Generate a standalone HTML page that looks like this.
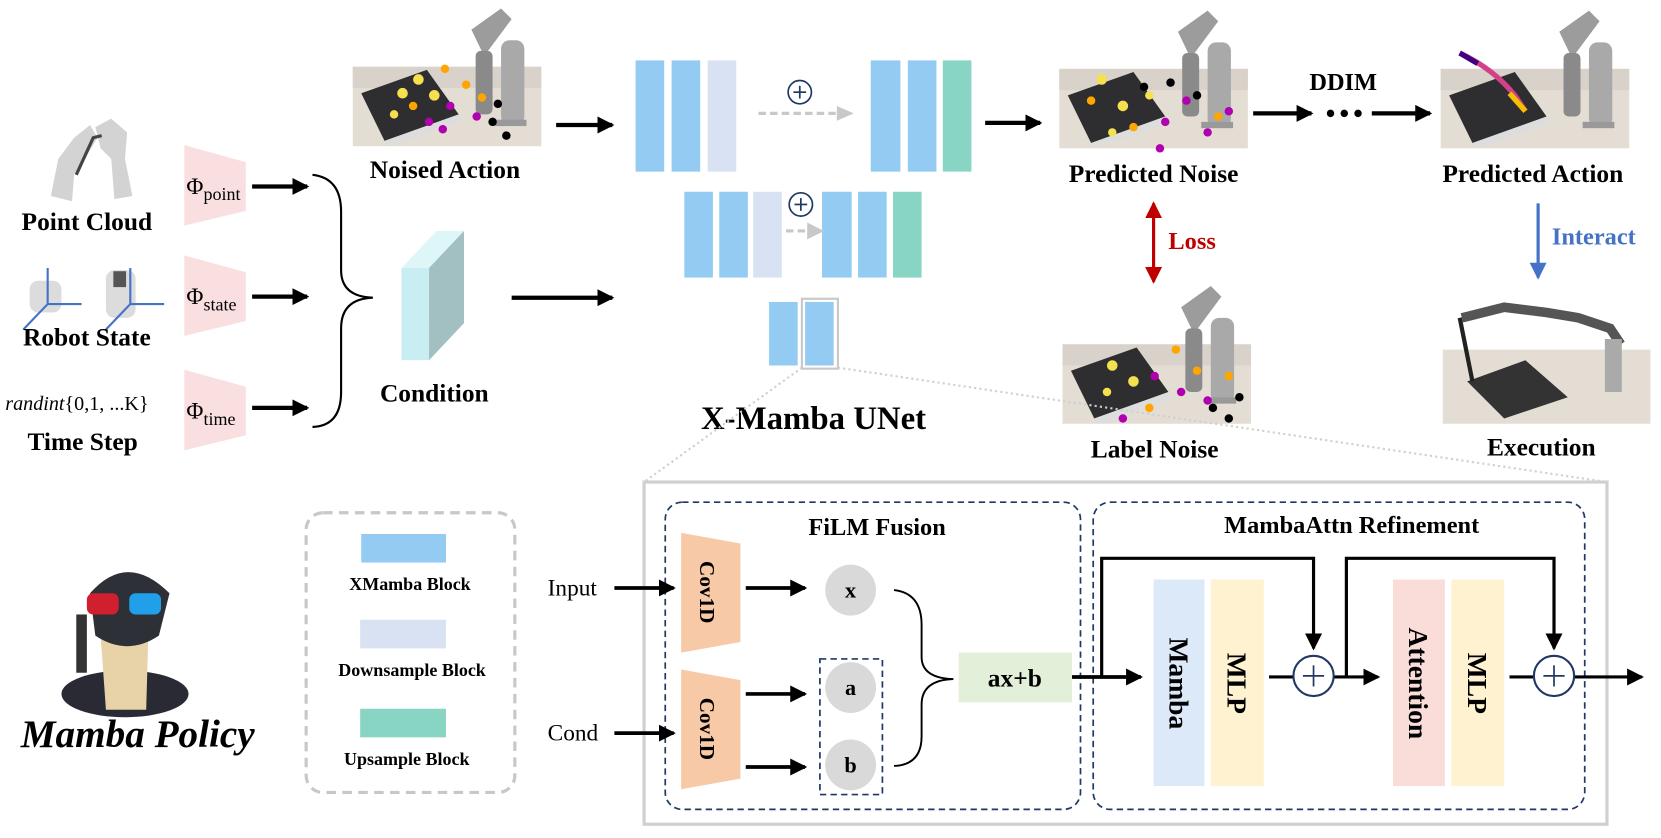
<!DOCTYPE html>
<html><head><meta charset="utf-8"><style>
html,body{margin:0;padding:0;background:#fff;}
svg{display:block;}
text{font-family:"Liberation Serif",serif;}
.b{font-weight:bold;}
</style></head><body>
<svg width="1661" height="838" viewBox="0 0 1568 791" preserveAspectRatio="none" xmlns="http://www.w3.org/2000/svg">
<defs>
<marker id="ahb" markerWidth="16" markerHeight="16" refX="14" refY="8" orient="auto" markerUnits="userSpaceOnUse"><path d="M0,0 L16,8 L0,16 z" fill="#000"/></marker>
<marker id="ahr" markerWidth="16" markerHeight="16" refX="14" refY="8" orient="auto-start-reverse" markerUnits="userSpaceOnUse"><path d="M0,0 L16,8 L0,16 z" fill="#c00000"/></marker>
<marker id="ahbl" markerWidth="16" markerHeight="16" refX="14" refY="8" orient="auto" markerUnits="userSpaceOnUse"><path d="M0,0 L16,8 L0,16 z" fill="#4472c4"/></marker>
<g id="scene">
<rect x="0" y="55" width="178" height="75" fill="#e4ddd3"/>
<rect x="0" y="55" width="178" height="20" fill="#d8d2ca"/>
<polygon points="8,80 70,58 100,100 30,125" fill="#2e2e30"/>
<polygon points="30,125 100,100 104,106 36,130" fill="#ddd"/>
<rect x="140" y="30" width="22" height="80" rx="8" fill="#a9a9a9"/>
<polygon points="112,20 140,0 150,10 124,45" fill="#9c9c9c"/>
<rect x="116" y="40" width="16" height="60" rx="5" fill="#8a8a8a"/>
<rect x="134" y="105" width="30" height="6" fill="#999"/>
</g>
</defs>

<g fill="#cfcfcf" opacity="0.9">
<path d="M48,185 L55,150 L70,130 L85,118 L92,130 L80,150 L70,165 L68,190 Z"/>
<path d="M90,120 L105,112 L120,125 L118,150 L125,185 L108,188 L105,150 L95,140 Z"/>
</g>
<path d="M72,165 L88,130 L96,128" stroke="#444" stroke-width="3" fill="none"/>
<text x="82" y="217" font-size="24" class="b" text-anchor="middle">Point Cloud</text>
<g fill="#dcdcdc"><rect x="28" y="265" width="30" height="30" rx="8"/><rect x="100" y="255" width="28" height="45" rx="8"/></g>
<g stroke="#4472c4" stroke-width="2" fill="none">
<line x1="45" y1="287" x2="45" y2="253"/><line x1="45" y1="287" x2="77" y2="287"/><line x1="45" y1="287" x2="22" y2="311"/>
<line x1="123" y1="287" x2="123" y2="253"/><line x1="123" y1="287" x2="155" y2="287"/><line x1="123" y1="287" x2="100" y2="311"/>
</g>
<rect x="107" y="256" width="12" height="15" fill="#555"/>
<text x="82" y="326" font-size="24" class="b" text-anchor="middle">Robot State</text>
<text x="5" y="387" font-size="19"><tspan font-style="italic">randint</tspan>{0,1, ...K}</text>
<text x="78" y="425" font-size="24" class="b" text-anchor="middle">Time Step</text>

<g fill="#f9dfe0">
<polygon points="174,137 232,153 232,199 174,213"/>
<polygon points="174,241 232,257 232,303 174,317"/>
<polygon points="174,349 232,365 232,411 174,425"/>
</g>
<text x="176" y="183" font-size="22">Φ<tspan font-size="17" dy="6">point</tspan></text>
<text x="176" y="287" font-size="22">Φ<tspan font-size="17" dy="6">state</tspan></text>
<text x="176" y="395" font-size="22">Φ<tspan font-size="17" dy="6">time</tspan></text>
<g stroke="#000" stroke-width="4" marker-end="url(#ahb)">
<line x1="238" y1="176" x2="290" y2="176"/><line x1="238" y1="280" x2="290" y2="280"/><line x1="238" y1="385" x2="290" y2="385"/>
</g>
<path d="M295,165 Q322,168 322,200 L322,255 Q322,280 352,281 Q322,282 322,310 L322,370 Q322,402 295,403" stroke="#000" stroke-width="2" fill="none"/>
<polygon points="379,253 412,218 438,218 405,253" fill="#dff6f8"/>
<polygon points="405,253 438,218 438,305 405,340" fill="#a2bfc2"/>
<rect x="379" y="253" width="26" height="87" fill="#c8eef3"/>
<text x="410" y="379" font-size="24" class="b" text-anchor="middle">Condition</text>
<line x1="483" y1="281" x2="578" y2="281" stroke="#000" stroke-width="4" marker-end="url(#ahb)"/>

<use href="#scene" x="333" y="8"/>
<g fill="#ffa500"><circle cx="420" cy="65" r="4"/><circle cx="440" cy="80" r="4"/><circle cx="390" cy="100" r="4"/><circle cx="455" cy="92" r="4"/></g>
<g fill="#f5e050"><circle cx="380" cy="88" r="5"/><circle cx="395" cy="75" r="5"/><circle cx="410" cy="90" r="5"/><circle cx="372" cy="108" r="4"/></g>
<g fill="#b000b0"><circle cx="405" cy="115" r="4"/><circle cx="425" cy="100" r="4"/><circle cx="450" cy="110" r="4"/><circle cx="418" cy="122" r="4"/></g>
<g fill="#000"><circle cx="465" cy="115" r="4"/><circle cx="478" cy="128" r="4"/><circle cx="470" cy="98" r="4"/></g>
<text x="420" y="168" font-size="24" class="b" text-anchor="middle">Noised Action</text>
<line x1="525" y1="118" x2="578" y2="118" stroke="#000" stroke-width="4" marker-end="url(#ahb)"/>

<g fill="#94cbf2">
<rect x="600" y="57" width="27" height="105"/><rect x="634" y="57" width="27" height="105"/>
<rect x="822" y="57" width="28" height="105"/><rect x="857" y="57" width="27" height="105"/>
<rect x="646" y="181" width="27" height="81"/><rect x="679" y="181" width="27" height="81"/>
<rect x="776" y="181" width="28" height="81"/><rect x="810" y="181" width="27" height="81"/>
<rect x="726" y="285" width="27" height="60"/><rect x="760" y="285" width="27" height="60"/>
</g>
<g fill="#d8e2f3"><rect x="668" y="57" width="27" height="105"/><rect x="711" y="181" width="27" height="81"/></g>
<g fill="#88d5c4"><rect x="890" y="57" width="27" height="105"/><rect x="843" y="181" width="27" height="81"/></g>
<rect x="757" y="282" width="34" height="66" fill="none" stroke="#c8c8c8" stroke-width="2"/>
<g stroke="#c8c8c8" stroke-width="3" stroke-dasharray="7,4">
<line x1="716" y1="107" x2="790" y2="107"/><line x1="742" y1="218" x2="762" y2="218"/>
</g>
<polygon points="790,100 806,107 790,114" fill="#c8c8c8"/>
<polygon points="762,210 778,218 762,226" fill="#c8c8c8"/>
<g fill="#fff" stroke="#1f3864" stroke-width="1.6">
<circle cx="755" cy="87" r="11"/><circle cx="756" cy="193" r="11"/>
</g>
<g stroke="#1f3864" stroke-width="1.6"><line x1="749" y1="87" x2="761" y2="87"/><line x1="755" y1="81" x2="755" y2="93"/><line x1="750" y1="193" x2="762" y2="193"/><line x1="756" y1="187" x2="756" y2="199"/></g>
<text x="768" y="405" font-size="31" class="b" text-anchor="middle">X-Mamba UNet</text>
<line x1="930" y1="116" x2="982" y2="116" stroke="#000" stroke-width="4" marker-end="url(#ahb)"/>

<use href="#scene" x="1000" y="10"/>
<g fill="#f5e050"><circle cx="1040" cy="75" r="5"/><circle cx="1060" cy="100" r="5"/><circle cx="1085" cy="90" r="4"/><circle cx="1050" cy="125" r="4"/></g>
<g fill="#ffa500"><circle cx="1030" cy="95" r="4"/><circle cx="1070" cy="120" r="4"/><circle cx="1150" cy="110" r="4"/></g>
<g fill="#b000b0"><circle cx="1100" cy="115" r="4"/><circle cx="1120" cy="95" r="4"/><circle cx="1140" cy="125" r="4"/><circle cx="1160" cy="105" r="4"/><circle cx="1095" cy="140" r="4"/></g>
<g fill="#000"><circle cx="1080" cy="82" r="4"/><circle cx="1105" cy="78" r="4"/><circle cx="1130" cy="90" r="4"/></g>
<text x="1089" y="172" font-size="24" class="b" text-anchor="middle">Predicted Noise</text>
<line x1="1089" y1="192" x2="1089" y2="266" stroke="#c00000" stroke-width="3" marker-start="url(#ahr)" marker-end="url(#ahr)"/>
<text x="1103" y="235" font-size="23" class="b" fill="#c00000">Loss</text>
<use href="#scene" x="1003" y="270"/>
<g fill="#f5e050"><circle cx="1050" cy="345" r="5"/><circle cx="1070" cy="360" r="5"/><circle cx="1045" cy="370" r="4"/></g>
<g fill="#ffa500"><circle cx="1110" cy="330" r="4"/><circle cx="1130" cy="350" r="4"/><circle cx="1085" cy="385" r="4"/><circle cx="1160" cy="355" r="4"/></g>
<g fill="#b000b0"><circle cx="1090" cy="355" r="4"/><circle cx="1115" cy="370" r="4"/><circle cx="1060" cy="395" r="4"/><circle cx="1140" cy="378" r="4"/></g>
<g fill="#000"><circle cx="1145" cy="385" r="4"/><circle cx="1160" cy="395" r="4"/><circle cx="1170" cy="375" r="4"/></g>
<text x="1090" y="432" font-size="24" class="b" text-anchor="middle">Label Noise</text>

<line x1="1183" y1="107" x2="1238" y2="107" stroke="#000" stroke-width="4" marker-end="url(#ahb)"/>
<text x="1268" y="85" font-size="23" class="b" text-anchor="middle">DDIM</text>
<g fill="#000"><circle cx="1256" cy="107" r="3.5"/><circle cx="1269" cy="107" r="3.5"/><circle cx="1282" cy="107" r="3.5"/></g>
<line x1="1295" y1="107" x2="1350" y2="107" stroke="#000" stroke-width="4" marker-end="url(#ahb)"/>
<use href="#scene" x="1360" y="10"/>
<path d="M1378,50 Q1410,65 1430,90 L1440,105" stroke="#d4408a" stroke-width="5" fill="none"/>
<path d="M1378,50 L1395,60" stroke="#400080" stroke-width="5"/><path d="M1425,88 L1440,105" stroke="#f5c000" stroke-width="5"/>
<text x="1447" y="172" font-size="24" class="b" text-anchor="middle">Predicted Action</text>
<line x1="1452" y1="192" x2="1452" y2="262" stroke="#4472c4" stroke-width="3" marker-end="url(#ahbl)"/>
<text x="1465" y="231" font-size="23" class="b" fill="#4472c4">Interact</text>
<rect x="1362" y="330" width="196" height="70" fill="#e4ddd3"/>
<polygon points="1385,360 1440,340 1480,375 1420,395" fill="#333"/>
<path d="M1380,300 L1420,290 L1460,295 L1490,300 L1520,310 L1530,325" stroke="#555" stroke-width="9" fill="none"/>
<rect x="1515" y="320" width="16" height="50" fill="#aaa"/>
<path d="M1378,300 L1390,360" stroke="#222" stroke-width="4"/>
<text x="1455" y="430" font-size="24" class="b" text-anchor="middle">Execution</text>

<g stroke="#cfcfcf" stroke-width="2" stroke-dasharray="2,3">
<line x1="757" y1="347" x2="608" y2="455"/><line x1="791" y1="347" x2="1517" y2="455"/>
</g>

<rect x="289" y="484" width="197" height="264" rx="16" fill="none" stroke="#c8c8c8" stroke-width="3" stroke-dasharray="9,6"/>
<rect x="341" y="504" width="80" height="27" fill="#94cbf2"/>
<rect x="340" y="585" width="81" height="27" fill="#d8e2f3"/>
<rect x="340" y="669" width="81" height="27" fill="#88d5c4"/>
<text x="387" y="557" font-size="17" class="b" text-anchor="middle">XMamba Block</text>
<text x="389" y="638" font-size="17" class="b" text-anchor="middle">Downsample Block</text>
<text x="384" y="722" font-size="17" class="b" text-anchor="middle">Upsample Block</text>

<ellipse cx="118" cy="655" rx="60" ry="22" fill="#2a2a35"/>
<path d="M95,600 L140,600 L138,670 L100,670 Z" fill="#e8d2a8"/>
<path d="M85,560 Q120,520 160,560 L150,600 Q120,620 90,600 Z" fill="#2e3038"/>
<rect x="82" y="560" width="30" height="20" rx="6" fill="#d02030"/>
<rect x="122" y="560" width="30" height="20" rx="6" fill="#20a0e8"/>
<rect x="72" y="580" width="10" height="55" fill="#333"/>
<text x="130" y="705" font-size="37" font-style="italic" class="b" text-anchor="middle">Mamba Policy</text>

<rect x="608" y="455" width="909" height="323" fill="none" stroke="#d0d0d0" stroke-width="3"/>
<g fill="none" stroke="#1f3864" stroke-width="1.6" stroke-dasharray="6,4">
<rect x="628" y="474" width="392" height="290" rx="16"/>
<rect x="1032" y="474" width="464" height="290" rx="16"/>
<rect x="774" y="622" width="59" height="128"/>
</g>
<text x="828" y="505" font-size="23" class="b" text-anchor="middle">FiLM Fusion</text>
<text x="1276" y="503" font-size="23" class="b" text-anchor="middle">MambaAttn Refinement</text>
<g fill="#f8c9a6">
<polygon points="643,503 699,513 699,606 643,616"/>
<polygon points="643,632 699,642 699,735 643,745"/>
</g>
<text transform="translate(661,559) rotate(90)" font-size="20" class="b" text-anchor="middle">Cov1D</text>
<text transform="translate(661,688) rotate(90)" font-size="20" class="b" text-anchor="middle">Cov1D</text>
<text x="517" y="562" font-size="22">Input</text>
<text x="517" y="699" font-size="22">Cond</text>
<g stroke="#000" stroke-width="3.5" marker-end="url(#ahb)">
<line x1="580" y1="555" x2="636" y2="555"/><line x1="580" y1="692" x2="636" y2="692"/>
<line x1="704" y1="555" x2="760" y2="555"/><line x1="704" y1="655" x2="760" y2="655"/><line x1="704" y1="724" x2="760" y2="724"/>
</g>
<g fill="#d9d9d9"><circle cx="803" cy="557" r="24"/><circle cx="803" cy="649" r="24"/><circle cx="803" cy="722" r="24"/></g>
<text x="803" y="564" font-size="21" class="b" text-anchor="middle">x</text>
<text x="803" y="656" font-size="21" class="b" text-anchor="middle">a</text>
<text x="803" y="729" font-size="21" class="b" text-anchor="middle">b</text>
<path d="M844,557 Q870,560 870,590 L870,620 Q870,640 900,641 Q870,642 870,665 L870,695 Q870,722 844,723" stroke="#000" stroke-width="1.8" fill="none"/>
<rect x="905" y="616" width="107" height="47" fill="#e2efd9"/>
<text x="958" y="648" font-size="24" class="b" text-anchor="middle">ax+b</text>
<line x1="1012" y1="639" x2="1077" y2="639" stroke="#000" stroke-width="3.5" marker-end="url(#ahb)"/>
<rect x="1089" y="547" width="48" height="195" fill="#dce9f8"/>
<rect x="1143" y="547" width="50" height="195" fill="#fff2d0"/>
<rect x="1315" y="547" width="49" height="195" fill="#fadcd9"/>
<rect x="1370" y="547" width="50" height="195" fill="#fff2d0"/>
<text transform="translate(1104,645) rotate(90)" font-size="26" class="b" text-anchor="middle">Mamba</text>
<text transform="translate(1159,645) rotate(90)" font-size="26" class="b" text-anchor="middle">MLP</text>
<text transform="translate(1330,645) rotate(90)" font-size="26" class="b" text-anchor="middle">Attention</text>
<text transform="translate(1386,645) rotate(90)" font-size="26" class="b" text-anchor="middle">MLP</text>
<g stroke="#000" stroke-width="3" fill="none">
<path d="M1040,639 L1040,527 L1240,527 L1240,612" marker-end="url(#ahb)"/>
<path d="M1271,639 L1271,527 L1467,527 L1467,612" marker-end="url(#ahb)"/>
<line x1="1198" y1="639" x2="1221" y2="639"/>
<line x1="1425" y1="639" x2="1448" y2="639"/>
<line x1="1259" y1="639" x2="1301" y2="639" marker-end="url(#ahb)"/>
<line x1="1486" y1="639" x2="1550" y2="639" marker-end="url(#ahb)"/>
</g>
<g fill="#fff" stroke="#1f3864" stroke-width="2"><circle cx="1240" cy="638" r="19"/><circle cx="1467" cy="638" r="19"/></g>
<g stroke="#1f3864" stroke-width="1.6"><line x1="1230" y1="638" x2="1250" y2="638"/><line x1="1240" y1="628" x2="1240" y2="648"/><line x1="1457" y1="638" x2="1477" y2="638"/><line x1="1467" y1="628" x2="1467" y2="648"/></g>
</svg>
</body></html>
